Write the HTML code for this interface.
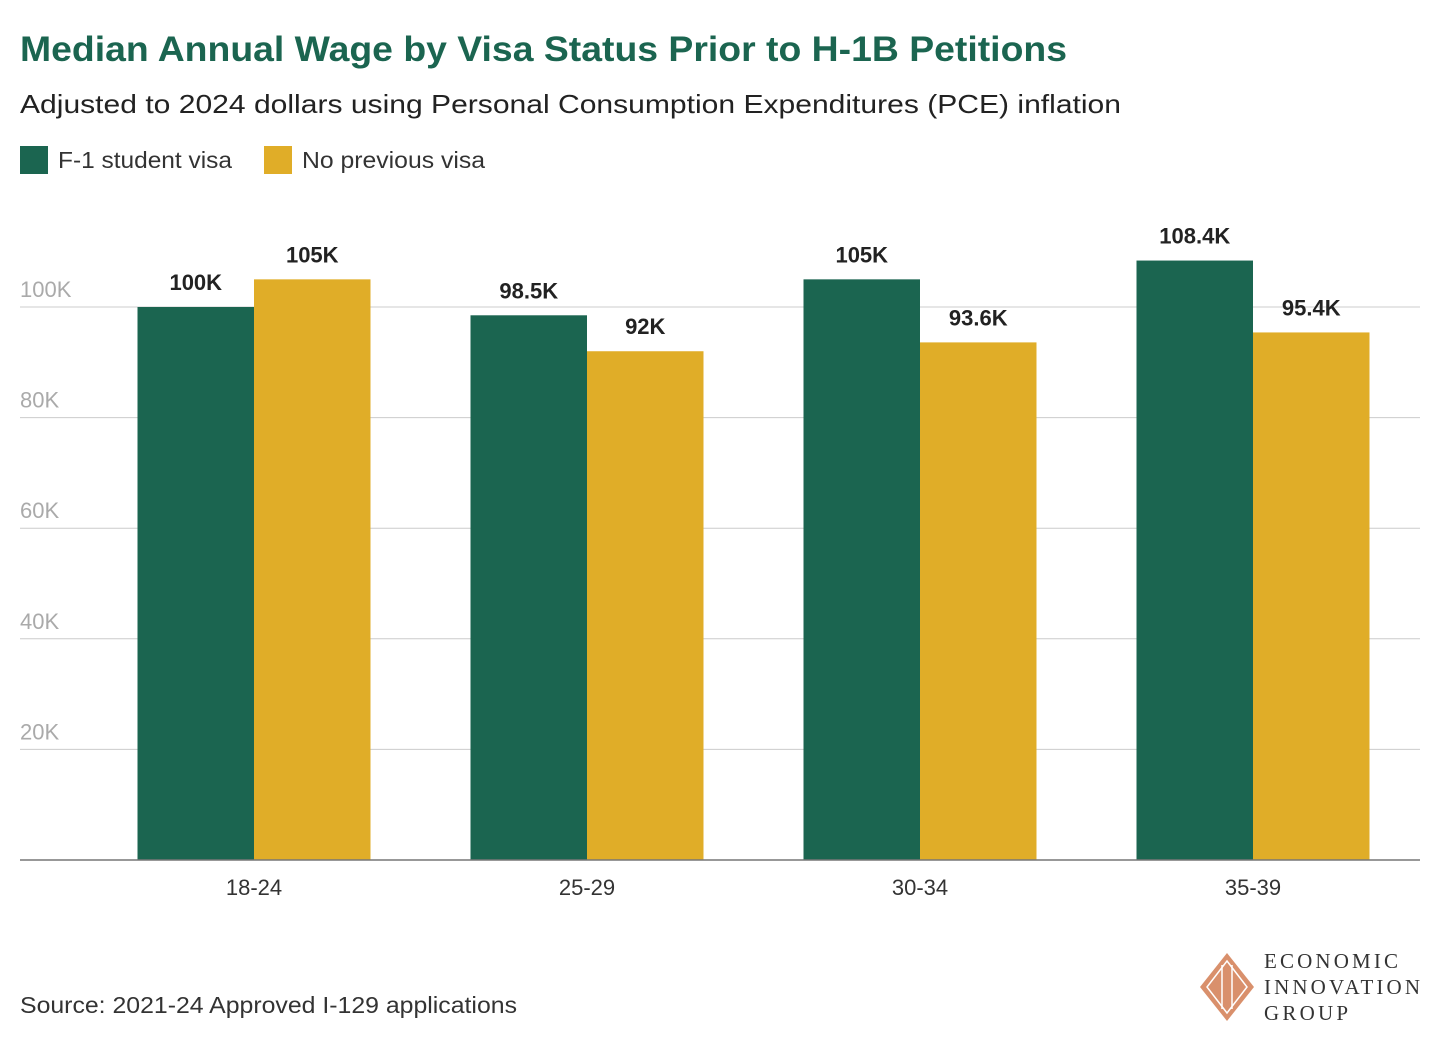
<!DOCTYPE html>
<html><head><meta charset="utf-8"><style>
body{margin:0;background:#fff;width:1440px;height:1044px;overflow:hidden;font-family:"Liberation Sans",sans-serif}
</style></head><body>
<svg width="1440" height="1044" xmlns="http://www.w3.org/2000/svg">
<text x="20" y="61" font-size="35" font-weight="bold" fill="#1b6550" textLength="1047" lengthAdjust="spacingAndGlyphs">Median Annual Wage by Visa Status Prior to H-1B Petitions</text>
<text x="20" y="113" font-size="26" fill="#222" textLength="1101" lengthAdjust="spacingAndGlyphs">Adjusted to 2024 dollars using Personal Consumption Expenditures (PCE) inflation</text>
<rect x="20" y="146" width="28" height="28" fill="#1b6550"/>
<text x="58" y="168" font-size="23" fill="#333" textLength="174" lengthAdjust="spacingAndGlyphs">F-1 student visa</text>
<rect x="264" y="146" width="28" height="28" fill="#e0ad28"/>
<text x="302" y="168" font-size="23" fill="#333" textLength="183" lengthAdjust="spacingAndGlyphs">No previous visa</text>
<g id="grid"></g>
<g id="bars"></g>
<line x1="20" y1="860" x2="1420" y2="860" stroke="#777" stroke-width="1.5"/>
<text x="20" y="1013" font-size="23" fill="#333" textLength="497" lengthAdjust="spacingAndGlyphs">Source: 2021-24 Approved I-129 applications</text>
<g>
<polygon points="1227,953 1254,987 1227,1021 1200,987" fill="#d9906c"/>
<polygon points="1227,961 1247,987 1227,1013 1207,987" fill="none" stroke="#fff" stroke-width="1.5"/>
<line x1="1222" y1="965" x2="1222" y2="1009" stroke="#fff" stroke-width="1.5"/>
<line x1="1232" y1="965" x2="1232" y2="1009" stroke="#fff" stroke-width="1.5"/>
<text x="1264" y="968" font-size="21" font-family="Liberation Serif,serif" fill="#333" textLength="134" lengthAdjust="spacing">ECONOMIC</text>
<text x="1264" y="994" font-size="21" font-family="Liberation Serif,serif" fill="#333" textLength="156" lengthAdjust="spacing">INNOVATION</text>
<text x="1264" y="1020" font-size="21" font-family="Liberation Serif,serif" fill="#333" textLength="84" lengthAdjust="spacing">GROUP</text>
</g>
</svg>
<script>
const categories=["18-24","25-29","30-34","35-39"];
const f1Values=[100,98.5,105,108.4];
const noVisaValues=[105,92,93.6,95.4];
const f1Labels=["100K","98.5K","105K","108.4K"];
const noVisaLabels=["105K","92K","93.6K","95.4K"];
const yTicks=[20,40,60,80,100];
const yTickLabels=["20K","40K","60K","80K","100K"];
const NS="http://www.w3.org/2000/svg";
const y=v=>860-v*5.53;
const xc=i=>254+i*333;
const bw=116.5;
function mk(tag,attrs,parent){const e=document.createElementNS(NS,tag);for(const k in attrs)e.setAttribute(k,attrs[k]);parent.appendChild(e);return e;}
const grid=document.getElementById('grid'),bars=document.getElementById('bars');
yTicks.forEach((t,i)=>{
 const l=mk('line',{x1:20,x2:1420,y1:y(t),y2:y(t),stroke:'#ccc','stroke-width':1},grid);
 
 
 const tx=mk('text',{x:20,y:y(t)-10,'font-size':22,fill:'#aaa'},grid);
 tx.textContent=yTickLabels[i];
 
 
});
categories.forEach((c,i)=>{
 const series=[[f1Values[i],f1Labels[i],'#1b6550',xc(i)-bw,'bar-f1'],[noVisaValues[i],noVisaLabels[i],'#e0ad28',xc(i),'bar-no-visa']];
 series.forEach(s=>{
  const r=mk('rect',{x:s[3],y:y(s[0]),width:bw,height:860-y(s[0]),fill:s[2]},bars);
  
  
  const t=mk('text',{x:s[3]+bw/2,y:y(s[0])-17,'font-size':22,'font-weight':'bold','text-anchor':'middle',fill:'#222'},bars);
  t.textContent=s[1];
  
  
 });
 const xl=mk('text',{x:xc(i),y:895,'font-size':22,'text-anchor':'middle',fill:'#333'},bars);
 xl.textContent=c;
 
 
});
</script>
</body></html>
